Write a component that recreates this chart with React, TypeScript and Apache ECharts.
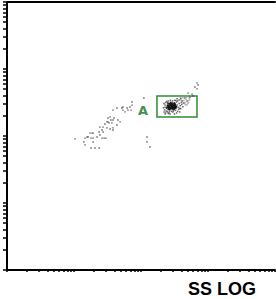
import React, { useEffect, useRef } from "react";
import * as echarts from "echarts";

// Log amplifier channels (0-1024, 256 channels per decade, 4 decades)
const decades = [0, 1, 2, 3];
const decadeSteps = [1, 2, 3, 4, 5, 6, 7, 8, 9];
const channelsPerDecade = 256;
const channelMax = 1024;

// [SS LOG channel, FS LOG channel]
const diagonalPopulation: number[][] = [
  [260, 501], [298, 504], [306, 508], [294, 489], [298, 478], [317, 523], [325, 523], [329, 523],
  [310, 508], [321, 504], [329, 504], [329, 489], [321, 466], [336, 466], [352, 466], [344, 508],
  [355, 516], [363, 504], [371, 504], [378, 504], [352, 527], [363, 535], [367, 527], [355, 546],
  [367, 546], [374, 558], [382, 566], [386, 566], [386, 581], [394, 585], [397, 573], [405, 573],
  [409, 581], [390, 562], [401, 562], [405, 543], [405, 535], [382, 543], [394, 539], [424, 573],
  [432, 566], [420, 554], [405, 611], [420, 619], [439, 619], [443, 611], [451, 604], [443, 623],
  [459, 619], [470, 623], [478, 642], [478, 630], [462, 611], [474, 611],
];

const scatterOutliers: number[][] = [
  [523, 657], [535, 508], [535, 489], [546, 470],
  [726, 715], [730, 707], [718, 699], [726, 692], [692, 676], [707, 672], [699, 661], [711, 665],
  [680, 657], [688, 646],
];

const gatedCore: number[][] = [
  [612, 622], [615, 630], [618, 618], [620, 626], [622, 634], [624, 620], [626, 628], [628, 616],
  [630, 624], [632, 632], [634, 620], [636, 628], [638, 618], [640, 626], [642, 634], [644, 622],
  [614, 638], [619, 636], [625, 640], [631, 638], [637, 636], [643, 630], [616, 614], [621, 612],
  [627, 622], [633, 626], [639, 614], [645, 618], [617, 624], [623, 616], [629, 630], [635, 622],
  [641, 620], [613, 628], [619, 620], [626, 634], [632, 618], [638, 632], [644, 626], [610, 618],
  [647, 624], [628, 636], [634, 614], [621, 628], [640, 638],
];

const gatedRing: number[][] = [
  [598, 620], [602, 612], [604, 630], [606, 640], [600, 604], [608, 608], [650, 630], [654, 622],
  [658, 636], [662, 628], [666, 640], [652, 646], [656, 614], [660, 618], [648, 642], [645, 648],
  [640, 648], [632, 646], [624, 648], [616, 646], [610, 644], [612, 606], [620, 604], [628, 606],
  [636, 608], [644, 610], [652, 606], [664, 616], [668, 632], [670, 646], [658, 650], [650, 654],
  [604, 622], [606, 600], [618, 598], [660, 604], [664, 654], [674, 638], [672, 624], [600, 636],
  [615, 600], [623, 596], [634, 604], [604, 596], [640, 596], [648, 600],
];

const gatedHalo: number[][] = [
  [676, 648], [680, 640], [684, 652], [688, 644], [678, 656], [686, 660], [692, 648], [682, 632],
  [690, 636], [696, 656], [670, 658], [674, 662], [694, 640], [698, 650], [684, 664], [666, 648],
  [678, 636], [688, 630], [662, 660], [700, 660],
];

const gateA = { ssMin: 573, ssMax: 726, fsMin: 585, fsMax: 665 };
const gateLabelPos = [520, 611];
const gateName = "A";
const xAxisTitle = "SS LOG";

const logTicks: number[] = [
  ...decades.flatMap((d) =>
    decadeSteps.map((k) => Math.round(channelsPerDecade * (d + Math.log10(k))))
  ),
  channelMax,
];

const GREEN = "#2f8a2f";

export default function App() {
  const ref = useRef<HTMLDivElement>(null);
  useEffect(() => {
    if (!ref.current) return;
    const chart = echarts.init(ref.current, undefined, { renderer: "svg" });
    const dotSeries = (data: number[][], color: string, size: number) => ({
      type: "scatter",
      data,
      symbol: "rect",
      symbolSize: size,
      itemStyle: { color },
      silent: true,
    });
    chart.setOption({
      animation: false,
      grid: { left: 7, top: 2, width: 268, height: 268 },
      xAxis: [
        {
          type: "value",
          min: 0,
          max: channelMax,
          position: "bottom",
          axisLine: { show: true, lineStyle: { color: "#000", width: 2 } },
          axisTick: {
            show: true,
            customValues: logTicks,
            length: 2,
            lineStyle: { color: "#000", width: 1.5 },
          },
          axisLabel: { show: false },
          splitLine: { show: false },
        },
        {
          type: "value",
          min: 0,
          max: channelMax,
          position: "top",
          axisLine: { show: true, lineStyle: { color: "#000", width: 2 } },
          axisTick: { show: false },
          axisLabel: { show: false },
          splitLine: { show: false },
        },
      ],
      yAxis: {
        type: "value",
        min: 0,
        max: channelMax,
        axisLine: { show: true, lineStyle: { color: "#000", width: 2 } },
        axisTick: {
          show: true,
          customValues: logTicks,
          length: 4,
          lineStyle: { color: "#000", width: 1.5 },
        },
        axisLabel: { show: false },
        splitLine: { show: false },
      },
      series: [
        {
          ...dotSeries(diagonalPopulation, "#333", 1.4),
          markArea: {
            silent: true,
            itemStyle: { color: "rgba(0,0,0,0)", borderColor: GREEN, borderWidth: 1.5 },
            data: [[{ coord: [gateA.ssMin, gateA.fsMax] }, { coord: [gateA.ssMax, gateA.fsMin] }]],
          },
        },
        dotSeries(scatterOutliers, "#333", 1.4),
        dotSeries(gatedHalo, "#999", 1.5),
        dotSeries(gatedRing, "#444", 1.5),
        dotSeries(gatedCore, "#000", 1.7),
        {
          type: "scatter",
          data: [gateLabelPos],
          symbolSize: 0,
          silent: true,
          label: {
            show: true,
            position: "inside",
            formatter: gateName,
            color: "#17701a",
            fontSize: 13,
            fontWeight: "bold",
            fontFamily: "DejaVu Sans",
          },
        },
      ],
      graphic: [
        {
          type: "text",
          x: 222,
          y: 289,
          style: {
            text: xAxisTitle,
            font: "bold 18px 'Liberation Sans', Arial, sans-serif",
            fill: "#000",
            textAlign: "center",
            textVerticalAlign: "middle",
          },
        },
      ],
    });
    return () => chart.dispose();
  }, []);
  return (
    <div
      ref={ref}
      style={{ position: "fixed", left: 0, top: 0, width: 276, height: 299, background: "#fff" }}
    />
  );
}
